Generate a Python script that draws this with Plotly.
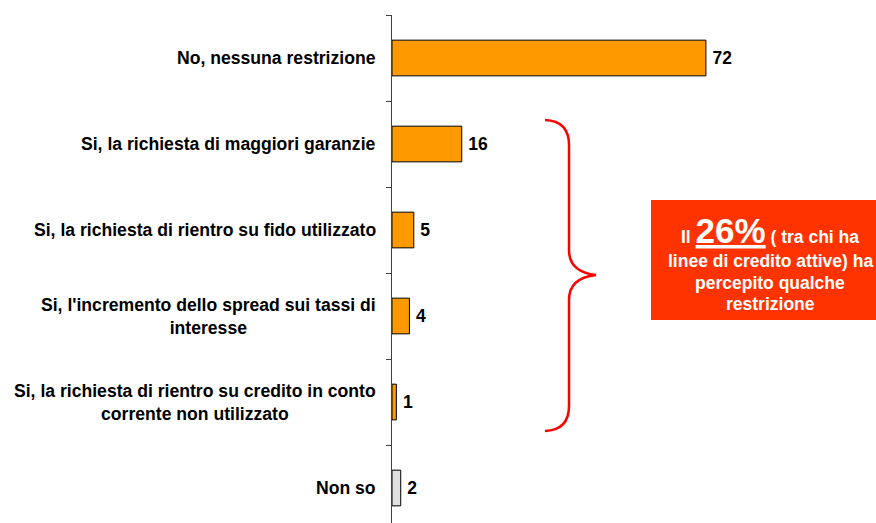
import plotly.graph_objects as go

# data
categories = [
    "No, nessuna restrizione",
    "Si, la richiesta di maggiori garanzie",
    "Si, la richiesta di rientro su fido utilizzato",
    "Si, l'incremento dello spread sui tassi di<br>interesse",
    "Si, la richiesta di rientro su credito in conto<br>corrente non utilizzato",
    "Non so",
]
values = [72, 16, 5, 4, 1, 2]
bar_colors = ["#FF9900"] * 5 + ["#E0E0E0"]
box_lines = ["linee di credito attive) ha", "percepito qualche", "restrizione"]

W, H = 876, 523
L, T, PW, PH = 392, 15, 436, 508
FONT = "Arial, Liberation Sans, sans-serif"

def xp(px): return (px - L) / PW
def yp(py): return (T + PH - py) / PH

fig = go.Figure()
fig.add_bar(
    y=categories, x=values, orientation="h",
    marker=dict(color=bar_colors, line=dict(color="#000000", width=1)),
    text=[f"\u2009<b>{v}</b>" for v in values], textposition="outside",
    textfont=dict(family=FONT, size=17.5, color="#000000"),
    cliponaxis=False, showlegend=False,
)

# category labels, centred block right-aligned against the axis
for c in categories:
    fig.add_annotation(x=xp(378), xref="paper", y=c, yref="y", text=f"<b>{c}</b>",
                       showarrow=False, xanchor="right", yanchor="middle", align="center",
                       font=dict(family=FONT, size=17.6, color="#000000"))

# red curly brace
pts = (f"M {xp(545)},{yp(120)} Q {xp(569)},{yp(121)} {xp(569)},{yp(145)} "
       f"L {xp(569)},{yp(250)} Q {xp(569)},{yp(272)} {xp(596)},{yp(275)} "
       f"Q {xp(569)},{yp(278)} {xp(569)},{yp(300)} "
       f"L {xp(569)},{yp(406)} Q {xp(569)},{yp(430)} {xp(545)},{yp(431)}")
fig.add_shape(type="path", path=pts, xref="paper", yref="paper",
              line=dict(color="#FF0000", width=2.5))

# highlight box
fig.add_shape(type="rect", xref="paper", yref="paper", x0=xp(651), x1=xp(880),
              y0=yp(320), y1=yp(200), fillcolor="#FF3300", line=dict(width=0), layer="above")
fig.add_annotation(x=xp(770), y=yp(230), xref="paper", yref="paper", showarrow=False,
                   xanchor="center", yanchor="middle",
                   text="<b>Il <span style='font-size:35px'><u>26%</u></span> ( tra chi ha</b>",
                   font=dict(family=FONT, size=17.5, color="#FFFFFF"))
for i, line in enumerate(box_lines):
    fig.add_annotation(x=xp(770), y=yp(261 + 21.5 * i), xref="paper", yref="paper",
                       showarrow=False, xanchor="center", yanchor="middle",
                       text=f"<b>{line}</b>", font=dict(family=FONT, size=17.5, color="#FFFFFF"))

fig.update_layout(
    width=W, height=H,
    margin=dict(l=L, r=W - L - PW, t=T, b=H - T - PH),
    plot_bgcolor="white", paper_bgcolor="white", bargap=0.585,
    font=dict(family=FONT, size=17, color="#000000"),
)
fig.update_xaxes(range=[0, 100], visible=False, showgrid=False)
fig.update_yaxes(type="category", range=[-0.5 + PH / 86, -0.5], showticklabels=False,
                 showline=True, linecolor="#404040", linewidth=1,
                 ticks="outside", tickson="boundaries", ticklen=5, tickcolor="#404040",
                 showgrid=False, zeroline=False)

# drop the page's default body margin so the figure fills the window
fig.write_html("out.html", config={"displayModeBar": False},
               post_script="document.body.style.margin='0';document.body.style.overflow='hidden';")
